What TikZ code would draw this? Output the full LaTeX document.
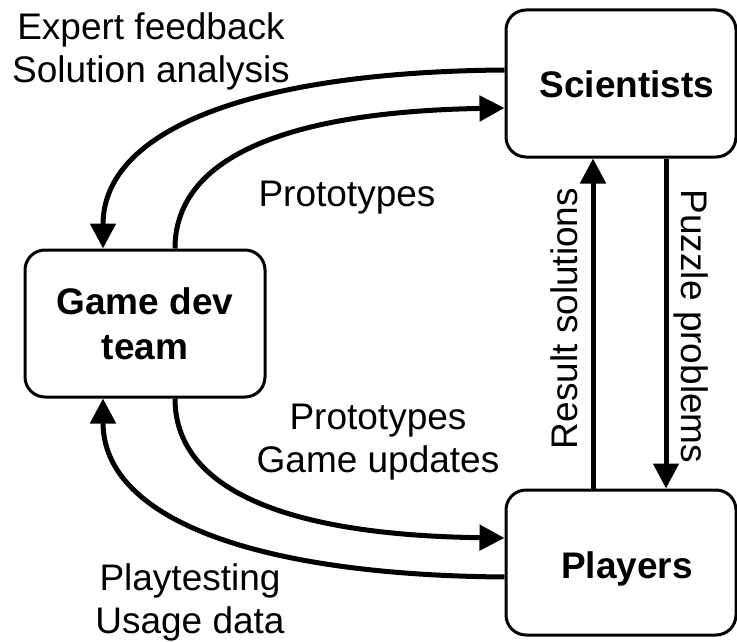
\documentclass[tikz,border=0pt]{standalone}
\usepackage{fontspec}
\setmainfont{Liberation Sans}
\usetikzlibrary{arrows.meta}
\begin{document}
\begin{tikzpicture}[x=1pt,y=-1pt,
  box/.style={draw,line width=3pt,rounded corners=20pt,inner sep=0pt,font=\fontsize{37}{45}\selectfont\bfseries,align=center},
  lbl/.style={font=\fontsize{37}{43}\selectfont,align=center,inner sep=0pt},
  flow/.style={line width=5pt,-{Triangle[length=25pt,width=25pt]}}]
\useasboundingbox (0,0) rectangle (737,642);
\node[box,minimum width=230pt,minimum height=147pt,text height=29pt,text depth=0pt] (sci) at (621,83.5) {\hspace*{12pt}Scientists};
\node[box,minimum width=240pt,minimum height=147pt] (gd) at (145,323.5) {Game dev\\team};
\node[box,minimum width=230pt,minimum height=145pt,text height=32pt,text depth=0pt] (pl) at (621,562.5) {\hspace*{12pt}Players};
% top arrows
\draw[flow] ([yshift=13.5pt]sci.west) .. controls (250,72) and (103,130) .. ([xshift=-42pt]gd.north);
\draw[flow] ([xshift=30pt]gd.north) .. controls (175,160) and (280,112) .. ([yshift=-24.5pt]sci.west);
% bottom arrows
\draw[flow] ([xshift=30pt]gd.south) .. controls (175,487) and (280,535) .. ([yshift=24.5pt]pl.west);
\draw[flow] ([yshift=-14.5pt]pl.west) .. controls (250,575) and (103,517) .. ([xshift=-42pt]gd.south);
% vertical arrows
\draw[flow] ([xshift=-28pt]pl.north) -- ([xshift=-28pt]sci.south);
\draw[flow] ([xshift=45pt]sci.south) -- ([xshift=45pt]pl.north);
% labels
\node[lbl] (l1) at (151,51.5) {Expert feedback\\Solution analysis};
\node[lbl] (l2) at (347,198) {Prototypes};
\node[lbl] (l3) at (378,442) {Prototypes\\Game updates};
\node[lbl] (l4) at (190,602) {Playtesting\\Usage data};
\node[lbl,rotate=90] (l5) at (564,318.5) {Result solutions};
\node[lbl,rotate=-90] (l6) at (691.5,326.5) {Puzzle problems};
\end{tikzpicture}
\end{document}
